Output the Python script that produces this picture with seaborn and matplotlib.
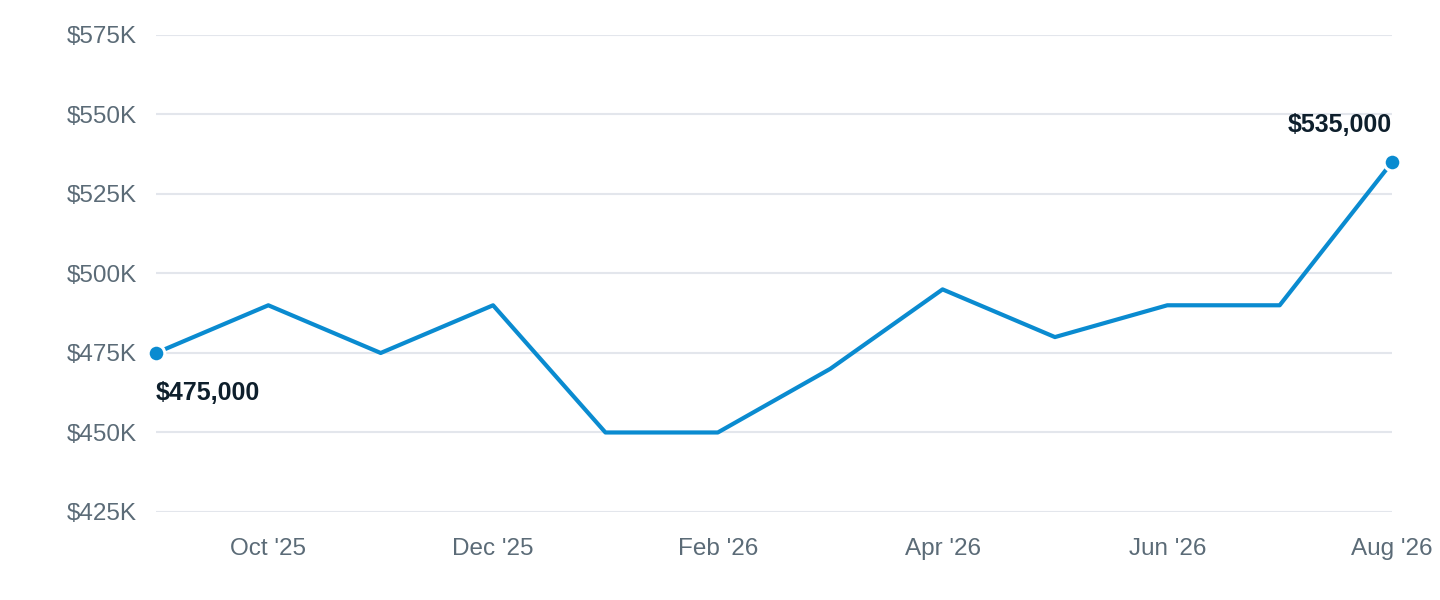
import pandas as pd
import matplotlib.pyplot as plt
import seaborn as sns

# Monthly median price, Sep '25 .. Aug '26
months = ["Sep '25", "Oct '25", "Nov '25", "Dec '25", "Jan '26", "Feb '26",
          "Mar '26", "Apr '26", "May '26", "Jun '26", "Jul '26", "Aug '26"]
prices = [475000, 490000, 475000, 490000, 450000, 450000,
          470000, 495000, 480000, 490000, 490000, 535000]
y_ticks = [425000, 450000, 475000, 500000, 525000, 550000, 575000]

LINE = "#0a8bd0"
TEXT = "#5b6b77"
DARK = "#0e1f2c"

df = pd.DataFrame({"idx": range(len(months)), "month": months, "price": prices})

sns.set_theme(style="white")
plt.rcParams["font.family"] = ["Liberation Sans", "DejaVu Sans"]

fig = plt.figure(figsize=(14.4, 6), dpi=100)
ax = fig.add_axes([0.1083, 0.1467, 0.8584, 0.795])

sns.lineplot(data=df, x="idx", y="price", ax=ax, color=LINE, linewidth=3, zorder=3)

# endpoint dots + labels
ends = df.iloc[[0, -1]]
ax.plot(ends["idx"], ends["price"], "o", color=LINE, markersize=12,
        markeredgecolor="white", markeredgewidth=2.2, clip_on=False, zorder=4)
first, last = df.iloc[0], df.iloc[-1]
ax.annotate(f"${first.price:,.0f}", (first.idx, first.price), xytext=(0, -28.5),
            textcoords="offset points", ha="left", va="center",
            fontsize=18, fontweight="bold", color=DARK)
ax.annotate(f"${last.price:,.0f}", (last.idx, last.price), xytext=(0, 26.5),
            textcoords="offset points", ha="right", va="center",
            fontsize=18, fontweight="bold", color=DARK)

ax.set_xlim(0, len(months) - 1)
ax.set_ylim(y_ticks[0], y_ticks[-1])
ax.set_yticks(y_ticks)
ax.set_yticklabels([f"${v // 1000}K" for v in y_ticks])
tick_idx = list(range(1, len(months), 2))
ax.set_xticks(tick_idx)
ax.set_xticklabels([months[i] for i in tick_idx])

ax.grid(axis="y", color="#e3e6ec", linewidth=1.5)
ax.set_axisbelow(True)
sns.despine(ax=ax, left=True, bottom=True)
ax.tick_params(axis="y", length=0, pad=14, labelsize=17.5, labelcolor=TEXT)
ax.tick_params(axis="x", length=0, pad=19, labelsize=17.5, labelcolor=TEXT)
ax.set_xlabel("")
ax.set_ylabel("")

fig.savefig("out.png", dpi=100, facecolor="white")
